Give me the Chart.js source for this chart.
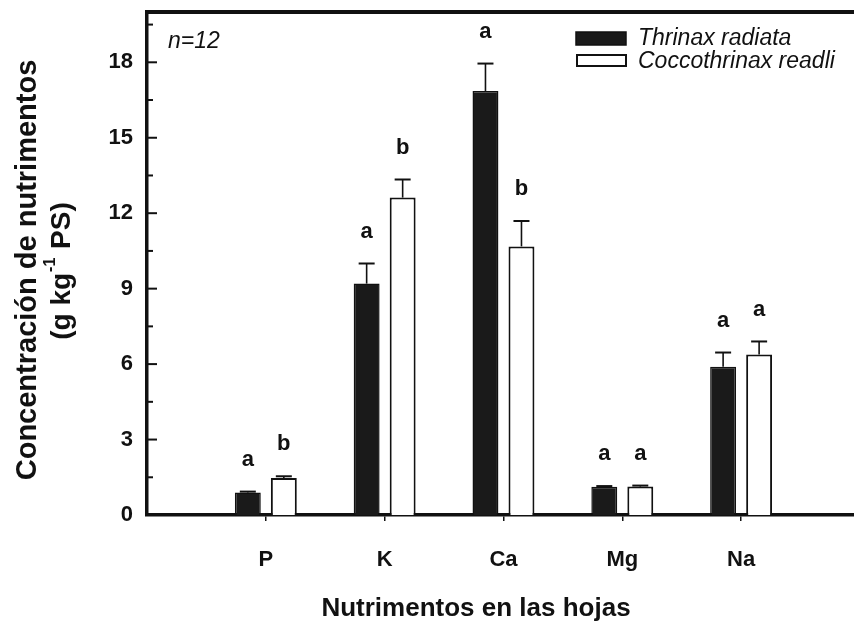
<!DOCTYPE html>
<html>
<head>
<meta charset="utf-8">
<script src="https://cdn.jsdelivr.net/npm/chart.js@4.4.1/dist/chart.umd.min.js"></script>
<style>
  body { margin: 0; background: #fff; }
  #wrap { width: 854px; height: 623px; }
</style>
</head>
<body>
<div id="wrap"><canvas id="myChart" width="854" height="623"></canvas></div>
<script>
const nutrients = ["P", "K", "Ca", "Mg", "Na"];
const thrinax = [0.89, 9.2, 16.86, 1.12, 5.89];
const thrinaxErr = [0.04, 0.8, 1.09, 0.03, 0.57];
const thrinaxLetters = ["a", "a", "a", "a", "a"];
const cocco = [1.47, 12.62, 10.68, 1.13, 6.38];
const coccoErr = [0.07, 0.72, 1.01, 0.04, 0.52];
const coccoLetters = ["b", "b", "b", "a", "a"];
const yTicks = [0, 3, 6, 9, 12, 15, 18];

const INK = "#111";
const FONT = "'Liberation Sans', Arial, sans-serif";

const errs = [thrinaxErr, coccoErr];
const letters = [thrinaxLetters, coccoLetters];

const decorations = {
  id: "decorations",
  afterDatasetsDraw(chart) {
    const ctx = chart.ctx;
    const y = chart.scales.y;
    const area = chart.chartArea;
    ctx.save();
    ctx.strokeStyle = INK;
    ctx.fillStyle = INK;

    // error bars and letters
    chart.data.datasets.forEach((ds, di) => {
      const meta = chart.getDatasetMeta(di);
      meta.data.forEach((bar, i) => {
        const v = ds.data[i].y;
        const capY = y.getPixelForValue(v + errs[di][i]);
        ctx.lineWidth = 1.6;
        ctx.beginPath();
        ctx.moveTo(bar.x, bar.y);
        ctx.lineTo(bar.x, capY);
        ctx.stroke();
        ctx.lineWidth = 2;
        ctx.beginPath();
        ctx.moveTo(bar.x - 8, capY);
        ctx.lineTo(bar.x + 8, capY);
        ctx.stroke();
        ctx.font = "bold 22px " + FONT;
        ctx.textAlign = "center";
        ctx.textBaseline = "middle";
        ctx.fillText(letters[di][i], bar.x, capY - 32);
      });
    });

    // top frame line
    ctx.lineWidth = 4;
    ctx.beginPath();
    ctx.moveTo(area.left - 1.5, area.top);
    ctx.lineTo(area.right, area.top);
    ctx.stroke();

    // inward ticks on y axis
    for (let v = 0; v <= 19.5; v += 1.5) {
      const py = y.getPixelForValue(v);
      const len = v % 3 === 0 ? 10 : 6;
      ctx.lineWidth = 2;
      ctx.beginPath();
      ctx.moveTo(area.left, py);
      ctx.lineTo(area.left + len, py);
      ctx.stroke();
    }

    // n=12
    ctx.font = "italic 23px " + FONT;
    ctx.textAlign = "left";
    ctx.textBaseline = "middle";
    ctx.fillText("n=12", 168, 42);

    // legend
    ctx.fillStyle = "#1a1a1a";
    ctx.fillRect(576, 32, 50, 13);
    ctx.strokeStyle = INK;
    ctx.lineWidth = 1.5;
    ctx.strokeRect(576, 32, 50, 13);
    ctx.fillStyle = "#fff";
    ctx.fillRect(577, 55, 49, 11);
    ctx.lineWidth = 2;
    ctx.strokeRect(577, 55, 49, 11);
    ctx.fillStyle = INK;
    ctx.font = "italic 23px " + FONT;
    ctx.fillText("Thrinax radiata", 638, 39);
    ctx.fillText("Coccothrinax readli", 638, 62);

    // x title
    ctx.font = "bold 26px " + FONT;
    ctx.textAlign = "center";
    ctx.fillText("Nutrimentos en las hojas", 476, 609);

    // y title (two lines, with superscript)
    ctx.translate(28, 270);
    ctx.rotate(-Math.PI / 2);
    ctx.font = "bold 29px " + FONT;
    ctx.textAlign = "center";
    ctx.fillText("Concentración de nutrimentos", 0, 0);
    ctx.translate(-2, 34);
    ctx.textAlign = "left";
    const big = "bold 28px " + FONT;
    const small = "bold 16px " + FONT;
    const p1 = "(g kg", p2 = "-1", p3 = " PS)";
    ctx.font = big;
    const w1 = ctx.measureText(p1).width;
    const w3 = ctx.measureText(p3).width;
    ctx.font = small;
    const w2 = ctx.measureText(p2).width;
    let x0 = -(w1 + w2 + w3) / 2;
    ctx.font = big;
    ctx.fillText(p1, x0, 0);
    ctx.font = small;
    ctx.fillText(p2, x0 + w1 + 1, -11);
    ctx.font = big;
    ctx.fillText(p3, x0 + w1 + w2 + 2, 0);
    ctx.restore();
  }
};

const ctx = document.getElementById("myChart");

new Chart(ctx, {
  type: "bar",
  data: {
    datasets: [
      {
        label: "Thrinax radiata",
        data: thrinax.map((v, i) => ({ x: i + 1, y: v })),
        backgroundColor: "#1a1a1a",
        borderColor: INK,
        borderWidth: 1.5,
      },
      {
        label: "Coccothrinax readli",
        data: cocco.map((v, i) => ({ x: i + 1, y: v })),
        backgroundColor: "#fff",
        borderColor: INK,
        borderWidth: 2,
      },
    ],
  },
  options: {
    responsive: false,
    animation: false,
    categoryPercentage: 0.606,
    barPercentage: 0.72,
    layout: { padding: { top: 12, right: 0, left: 0, bottom: 0 } },
    plugins: {
      legend: { display: false },
      tooltip: { enabled: false },
    },
    scales: {
      x: {
        type: "linear",
        offset: false,
        min: 0,
        max: 5.95,
        afterBuildTicks: (s) => { s.ticks = [1, 2, 3, 4, 5].map((v) => ({ value: v })); },
        afterFit: (s) => { s.height = 108; s.paddingRight = 0; s.paddingLeft = 0; },
        grid: { offset: false, drawOnChartArea: false, tickLength: 6, color: INK, lineWidth: 1.5 },
        border: { display: true, color: INK, width: 3.5 },
        ticks: {
          color: INK,
          padding: 26,
          maxRotation: 0,
          autoSkip: false,
          font: { family: FONT, size: 22, weight: "bold" },
          callback: (v) => nutrients[v - 1] || "",
        },
      },
      y: {
        min: 0,
        max: 20,
        afterBuildTicks: (s) => { s.ticks = yTicks.map((v) => ({ value: v })); },
        afterFit: (s) => { s.width = 147; s.paddingTop = 0; s.paddingBottom = 0; },
        grid: { display: false },
        border: { display: true, color: INK, width: 3.5 },
        ticks: {
          color: INK,
          padding: 6,
          font: { family: FONT, size: 22, weight: "bold" },
        },
      },
    },
  },
  plugins: [decorations],
});
</script>
</body>
</html>
